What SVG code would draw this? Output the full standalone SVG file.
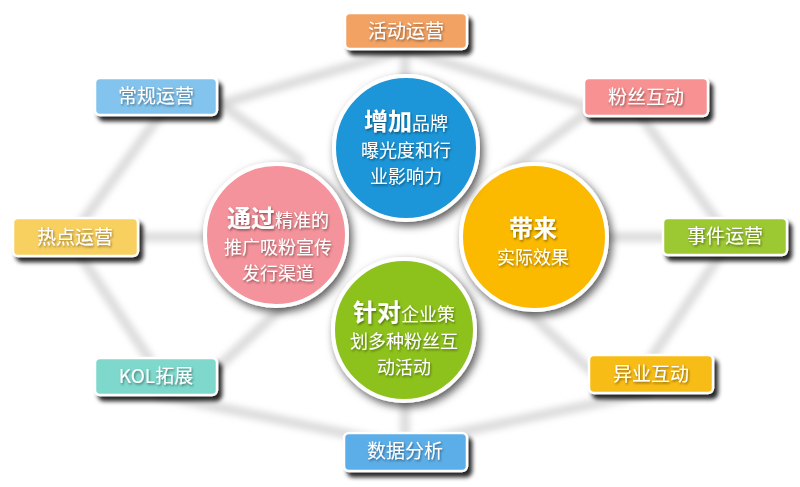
<svg xmlns="http://www.w3.org/2000/svg" width="800" height="487" viewBox="0 0 800 487">
<defs>
<filter id="bs" x="-20%" y="-30%" width="150%" height="180%"><feDropShadow dx="4" dy="5" stdDeviation="2" flood-color="#000" flood-opacity="0.85"/></filter>
<filter id="cs" x="-20%" y="-20%" width="150%" height="150%"><feDropShadow dx="3" dy="4" stdDeviation="4" flood-color="#000" flood-opacity="0.65"/></filter>
<filter id="ts" x="-10%" y="-20%" width="130%" height="150%"><feDropShadow dx="1" dy="1.5" stdDeviation="0.8" flood-color="#000" flood-opacity="0.45"/></filter>
<filter id="blur"><feGaussianBlur stdDeviation="3"/></filter>
</defs>
<style>
.box{stroke:#fff;stroke-width:2.5}
.bt{font-family:"Noto Sans CJK SC","Liberation Sans",sans-serif;font-size:19px;fill:#fff;text-anchor:middle;filter:url(#ts)}
.ct{font-family:"Noto Sans CJK SC","Liberation Sans",sans-serif;font-size:18px;fill:#fff;text-anchor:middle;filter:url(#ts)}
.big{font-size:24px;font-weight:bold}
.circ{stroke:#fff;stroke-width:4;filter:url(#cs)}
.ln{stroke:#d2d2d2;stroke-width:10;fill:none;opacity:0.75;stroke-linecap:round}
</style>
<rect width="800" height="487" fill="#fff"/>
<g id="connectors" filter="url(#blur)">
<path class="ln" d="M405 50 L200 110 M405 50 L600 110 M160 115 L80 225 M640 115 L720 225 M80 255 L150 360 M720 255 L650 360 M160 395 L400 445 M650 392 L400 445"/>
<path class="ln" d="M405 50 L405 80 M215 100 L300 160 M140 237 L205 237 M215 370 L290 300 M405 435 L405 400 M590 110 L510 170 M663 237 L610 237 M590 370 L520 305"/>
</g>
<g id="box-huodong"><rect class="box" x="345" y="13" width="122" height="36" rx="5" fill="#F2A263" filter="url(#bs)"/><text class="bt" x="406" y="38">活动运营</text></g>
<g id="box-changgui"><rect class="box" x="95" y="78" width="122" height="37" rx="5" fill="#83C4EE" filter="url(#bs)"/><text class="bt" x="156" y="103">常规运营</text></g>
<g id="box-redian"><rect class="box" x="13" y="218" width="125" height="38" rx="5" fill="#F8D060" filter="url(#bs)"/><text class="bt" x="75" y="244">热点运营</text></g>
<g id="box-kol"><rect class="box" x="95" y="358" width="122" height="37" rx="5" fill="#7ED8CC" filter="url(#bs)"/><text class="bt" x="156" y="383">KOL拓展</text></g>
<g id="box-shuju"><rect class="box" x="344" y="433" width="123" height="38" rx="5" fill="#5CAEE8" filter="url(#bs)"/><text class="bt" x="405" y="458">数据分析</text></g>
<g id="box-fensi"><rect class="box" x="584" y="78" width="124" height="38" rx="5" fill="#F89292" filter="url(#bs)"/><text class="bt" x="646" y="104">粉丝互动</text></g>
<g id="box-shijian"><rect class="box" x="663" y="218" width="124" height="37" rx="5" fill="#9CC832" filter="url(#bs)"/><text class="bt" x="725" y="243">事件运营</text></g>
<g id="box-yiye"><rect class="box" x="589" y="355" width="124" height="38" rx="5" fill="#F8BC12" filter="url(#bs)"/><text class="bt" x="651" y="381">异业互动</text></g>
<g id="c-pink"><circle class="circ" cx="276" cy="235" r="71" fill="#F4939B"/>
<text class="ct" x="278" y="227"><tspan class="big">通过</tspan>精准的</text>
<text class="ct" x="278" y="254">推广吸粉宣传</text>
<text class="ct" x="278" y="280">发行渠道</text></g>
<g id="c-yellow"><circle class="circ" cx="534" cy="237" r="73" fill="#FBBA00"/>
<text class="ct big" x="533" y="237">带来</text>
<text class="ct" x="533" y="264">实际效果</text></g>
<g id="c-green"><circle class="circ" cx="404" cy="330" r="71" fill="#8DC21F"/>
<text class="ct" x="404" y="321"><tspan class="big">针对</tspan>企业策</text>
<text class="ct" x="404" y="348">划多种粉丝互</text>
<text class="ct" x="404" y="374">动活动</text></g>
<g id="c-blue"><circle class="circ" cx="406" cy="148" r="72" fill="#1E96D8"/>
<text class="ct" x="406" y="130"><tspan class="big">增加</tspan>品牌</text>
<text class="ct" x="406" y="157">曝光度和行</text>
<text class="ct" x="406" y="183">业影响力</text></g>
</svg>
